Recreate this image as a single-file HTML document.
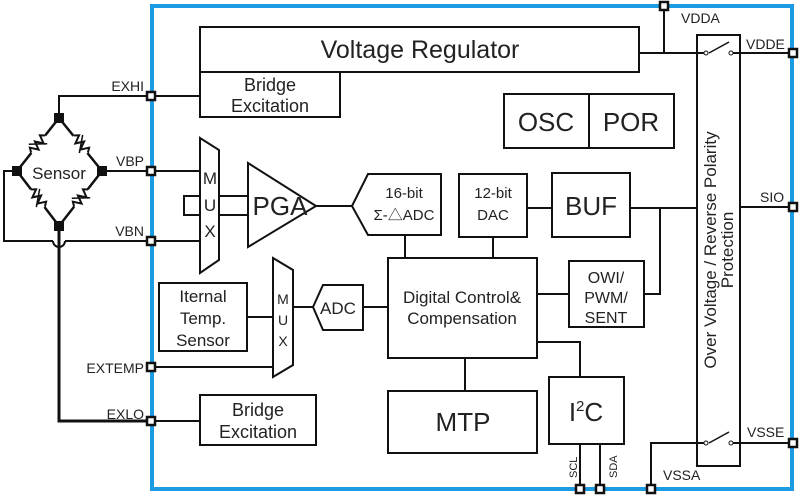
<!DOCTYPE html>
<html><head><meta charset="utf-8"><style>
html,body{margin:0;padding:0;background:#fff}
svg{display:block}
text{font-family:"Liberation Sans","Noto Sans CJK SC",sans-serif;fill:#222}
</style></head><body>
<svg width="800" height="497" viewBox="0 0 800 497" xmlns="http://www.w3.org/2000/svg">
<defs>
<g id="res"><rect x="-11" y="-5" width="22" height="10" fill="#fff"/><polyline points="-11,0 -8,-4 -4,4 0,-4 4,4 8,-4 11,0" fill="none" stroke="#111" stroke-width="2"/><line x1="-6" y1="-7" x2="6" y2="7" stroke="#111" stroke-width="1.5"/></g>
</defs>
<rect x="152" y="6" width="640" height="483" fill="none" stroke="#1a9be2" stroke-width="4"/>
<g fill="none" stroke="#111" stroke-width="2">
<polygon points="59,118 17,171 59,226 102,171" stroke-width="2.5"/>
<polyline points="59,118 59,96 151,96" />
<line x1="102" y1="171" x2="151" y2="171"/>
<polyline points="17,171 4,171 4,241 53,241"/>
<path d="M53,241 a6,6 0 0 0 12,0"/>
<line x1="65" y1="241" x2="151" y2="241"/>
<polyline points="59,226 59,421 151,421" stroke-width="3"/>
</g>
<use href="#res" transform="translate(38,144) rotate(-51)"/>
<use href="#res" transform="translate(81,144) rotate(51)"/>
<use href="#res" transform="translate(38,198) rotate(51)"/>
<use href="#res" transform="translate(81,198) rotate(-51)"/>
<g fill="#111"><rect x="54" y="113" width="10" height="10"/><rect x="12" y="166" width="10" height="10"/><rect x="97" y="166" width="10" height="10"/><rect x="54" y="221" width="10" height="10"/></g>
<text x="59" y="179" font-size="17" text-anchor="middle">Sensor</text>

<g fill="none" stroke="#111" stroke-width="2">
<rect x="200" y="27" width="439" height="45" fill="#fff"/>
<rect x="200" y="72" width="140" height="45"/>
<line x1="151" y1="96" x2="200" y2="96"/>
<polyline points="664,5 664,53"/>
<line x1="639" y1="53" x2="706" y2="53"/>
<rect x="504" y="94" width="170" height="54"/>
<line x1="589" y1="94" x2="589" y2="148"/>
<polygon points="200,138 219,150 219,260 200,273"/>
<polyline points="200,196 184,196 184,215 200,215"/>
<line x1="151" y1="171" x2="200" y2="171"/>
<line x1="151" y1="241" x2="200" y2="241"/>
<line x1="219" y1="196" x2="248" y2="196"/>
<line x1="219" y1="215" x2="248" y2="215"/>
<polygon points="248,163 248,247 316,206"/>
<line x1="316" y1="206" x2="352" y2="206"/>
<polygon points="352,206 368,174 441,174 441,235 368,235"/>
<rect x="459" y="174" width="68" height="63"/>
<line x1="527" y1="208" x2="552" y2="208"/>
<rect x="552" y="173" width="78" height="64"/>
<line x1="630" y1="208" x2="697" y2="208"/>
<polyline points="660,208 660,294 644,294"/>
<line x1="405" y1="235" x2="405" y2="258"/>
<line x1="493" y1="237" x2="493" y2="258"/>
<rect x="388" y="258" width="149" height="100"/>
<line x1="537" y1="294" x2="569" y2="294"/>
<rect x="569" y="261" width="75" height="66"/>
<rect x="159" y="283" width="88" height="68"/>
<line x1="247" y1="317" x2="273" y2="317"/>
<polygon points="273,258 293,270 293,365 273,377"/>
<line x1="293" y1="307" x2="313" y2="307"/>
<polygon points="313,307 323,285 363,285 363,330 323,330"/>
<line x1="363" y1="307" x2="388" y2="307"/>
<line x1="151" y1="367" x2="273" y2="367"/>
<line x1="151" y1="421" x2="200" y2="421"/>
<rect x="200" y="395" width="116" height="50"/>
<line x1="465" y1="358" x2="465" y2="391"/>
<rect x="388" y="391" width="149" height="62"/>
<polyline points="537,342 580,342 580,377"/>
<rect x="549" y="377" width="75" height="67"/>
<line x1="580" y1="444" x2="580" y2="489"/>
<line x1="600" y1="444" x2="600" y2="489"/>
<rect x="697" y="35" width="43" height="431"/>
<line x1="740" y1="207" x2="793" y2="207"/>
<line x1="731" y1="53" x2="793" y2="53"/>
<line x1="731" y1="443" x2="793" y2="443"/>
<polyline points="651,489 651,443 704,443"/>
<line x1="709" y1="53" x2="729" y2="42" stroke-width="1.5"/>
<line x1="709" y1="443" x2="729" y2="432" stroke-width="1.5"/>
</g>
<g fill="#fff" stroke="#111" stroke-width="1"><circle cx="706" cy="53" r="2"/><circle cx="731" cy="53" r="2"/><circle cx="706" cy="443" r="2"/><circle cx="731" cy="443" r="2"/></g>
<g fill="#fff" stroke="#111" stroke-width="2.5">
<rect x="147" y="92" width="8" height="8"/><rect x="147" y="167" width="8" height="8"/><rect x="147" y="237" width="8" height="8"/><rect x="147" y="363" width="8" height="8"/><rect x="147" y="417" width="8" height="8"/>
<rect x="660" y="2" width="8" height="8"/><rect x="789" y="49" width="8" height="8"/><rect x="789" y="203" width="8" height="8"/><rect x="789" y="439" width="8" height="8"/>
<rect x="576" y="485" width="8" height="8"/><rect x="596" y="485" width="8" height="8"/><rect x="647" y="485" width="8" height="8"/>
</g>
<g font-size="14">
<text x="144" y="91" text-anchor="end">EXHI</text>
<text x="144" y="166" text-anchor="end">VBP</text>
<text x="144" y="236" text-anchor="end">VBN</text>
<text x="144" y="373" text-anchor="end">EXTEMP</text>
<text x="144" y="419" text-anchor="end">EXLO</text>
<text x="681" y="23">VDDA</text>
<text x="746" y="49">VDDE</text>
<text x="760" y="202">SIO</text>
<text x="747" y="437">VSSE</text>
<text x="663" y="480">VSSA</text>
</g>
<g font-size="11"><text transform="translate(577,478) rotate(-90)">SCL</text><text transform="translate(617,478) rotate(-90)">SDA</text></g>
<text x="420" y="58" font-size="25" text-anchor="middle">Voltage Regulator</text>
<g font-size="18" text-anchor="middle"><text x="270" y="91">Bridge</text><text x="270" y="112">Excitation</text>
<text x="258" y="416">Bridge</text><text x="258" y="438">Excitation</text></g>
<g font-size="26" text-anchor="middle"><text x="546" y="131">OSC</text><text x="631" y="131">POR</text><text x="591" y="215">BUF</text><text x="280" y="215">PGA</text><text x="463" y="431">MTP</text><text x="586" y="421">I<tspan font-size="15" dy="-10">2</tspan><tspan dy="10">C</tspan></text></g>
<g font-size="17" text-anchor="middle"><text x="210" y="184">M</text><text x="210" y="211">U</text><text x="210" y="237">X</text></g>
<g font-size="14" text-anchor="middle"><text x="283" y="304">M</text><text x="283" y="325">U</text><text x="283" y="346">X</text></g>
<g font-size="15" text-anchor="middle"><text x="404" y="198">16-bit</text><text x="404" y="220">Σ-△ADC</text><text x="493" y="198">12-bit</text><text x="493" y="220">DAC</text></g>
<g font-size="17" text-anchor="middle"><text x="462" y="303">Digital Control&amp;</text><text x="462" y="324">Compensation</text>
<text x="338" y="314">ADC</text>
<text x="203" y="302">Iternal</text><text x="203" y="324">Temp.</text><text x="203" y="346">Sensor</text></g>
<g font-size="16" text-anchor="middle"><text x="606" y="283">OWI/</text><text x="606" y="303">PWM/</text><text x="606" y="323">SENT</text></g>
<g font-size="17" text-anchor="middle"><text transform="translate(716,250) rotate(-90)">Over Voltage / Reverse Polarity</text><text transform="translate(733,250) rotate(-90)">Protection</text></g>
</svg>
</body></html>
